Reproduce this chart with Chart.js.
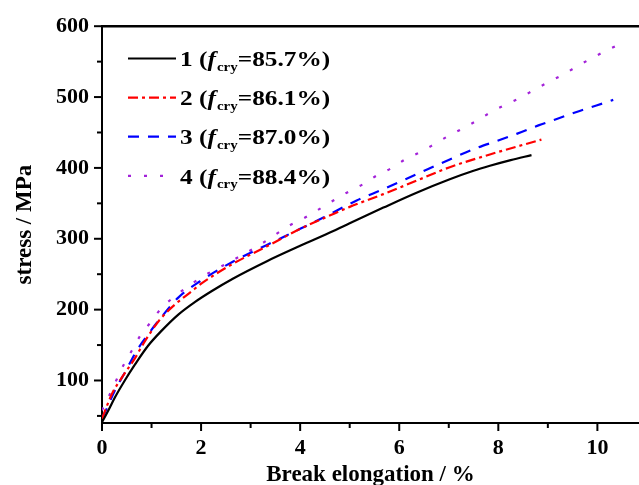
<!DOCTYPE html>
<html>
<head>
<meta charset="utf-8">
<script src="https://cdn.jsdelivr.net/npm/chart.js@4.4.1/dist/chart.umd.min.js"></script>
<style>
  html, body { margin: 0; padding: 0; background: #fff; }
  #wrap { width: 639px; height: 485px; position: relative; }
  .fontwarm { position: absolute; left: -9999px; top: 0; font-family: "Liberation Serif"; font-weight: bold; }
</style>
</head>
<body>
<div id="wrap"><canvas id="myChart" width="639" height="485"></canvas></div>
<span class="fontwarm">0123 stress</span><span class="fontwarm" style="font-style:italic">f</span>
<script>
// legend text
const sampleNums = ["1", "2", "3", "4"];
const fcryText = ["=85.7%)", "=86.1%)", "=87.0%)", "=88.4%)"];

// curve 1 (f_cry = 85.7%)
const elong1 = [0, 0.13, 0.26, 0.46, 0.67, 0.93, 1.2, 1.54, 1.88, 2.21, 2.65, 3.32, 4.0, 4.67, 5.0, 5.68, 6.35, 7.02, 7.5, 7.83, 8.25, 8.67];
const stress1 = [41, 58, 76, 100, 123, 149, 170, 193, 211, 226, 244, 268, 290, 311, 322, 344, 365, 384, 396, 403, 411, 418];

// curve 2 (f_cry = 86.1%)
const elong2 = [0, 0.2, 0.4, 0.67, 0.87, 1.17, 1.47, 1.81, 2.01, 2.65, 3.32, 4.0, 4.67, 5.0, 5.68, 6.35, 7.02, 7.83, 8.87];
const stress2 = [46, 81, 104, 132, 156, 186, 207, 226, 237, 265, 289, 314, 335, 345, 363, 382, 401, 419, 440];

// curve 3 (f_cry = 87.0%)
const elong3 = [0, 0.06, 0.26, 0.46, 0.7, 0.93, 1.24, 1.54, 1.98, 2.65, 3.32, 4.0, 4.47, 5.14, 5.68, 6.35, 7.02, 7.56, 7.97, 8.37, 8.81, 9.18, 9.58, 9.98, 10.32];
const stress3 = [47, 55, 86, 111, 142, 165, 193, 217, 240, 268, 291, 314, 330, 354, 370, 391, 412, 428, 438, 448, 460, 469, 479, 488, 496];

// curve 4 (f_cry = 88.4%)
const elong4 = [0, 0.16, 0.3, 0.43, 0.6, 0.77, 0.97, 1.2, 1.51, 1.78, 2.04, 2.65, 3.22, 3.79, 4.1, 4.67, 4.94, 5.27, 5.54, 5.85, 6.12, 6.42, 6.72, 6.99, 7.29, 7.6, 7.86, 8.17, 8.47, 8.74, 9.04, 9.34, 9.63, 9.92, 10.22, 10.55];
const stress4 = [58, 81, 102, 121, 142, 163, 181, 202, 221, 235, 247, 270, 293, 319, 330, 354, 365, 377, 389, 400, 412, 422, 434, 445, 456, 468, 479, 490, 500, 511, 522, 533, 545, 556, 567, 578];

// axis ticks
const xTicks = [0, 1, 2, 3, 4, 5, 6, 7, 8, 9, 10];
const yTicks = [50, 100, 150, 200, 250, 300, 350, 400, 450, 500, 550, 600];

const lineColors = ["#000000", "#ff0000", "#0000ff", "#a322d9"];
const lineDashes = [[], [10, 4, 3, 4], [11, 9], [3, 13]];

function toPoints(xs, ys) {
  return xs.map(function(x, i) { return { x: x, y: ys[i] }; });
}

const allX = [elong1, elong2, elong3, elong4];
const allY = [stress1, stress2, stress3, stress4];

const datasets = allX.map(function(xs, i) {
  return {
    label: sampleNums[i],
    data: toPoints(xs, allY[i]),
    borderColor: lineColors[i],
    borderWidth: 2.2,
    borderDash: lineDashes[i],
    pointRadius: 0,
    fill: false,
    cubicInterpolationMode: 'monotone'
  };
});

const serif = '"Liberation Serif"';

// top frame line, outward tick marks and the legend with subscripts
const framePlugin = {
  id: 'framePlugin',
  afterDraw(chart) {
    const ctx = chart.ctx;
    const area = chart.chartArea;
    const xs = chart.scales.x;
    const ys = chart.scales.y;
    ctx.save();
    ctx.strokeStyle = '#000';
    ctx.lineWidth = 2.4;
    ctx.beginPath();
    ctx.moveTo(area.left - 1, area.top);
    ctx.lineTo(area.right, area.top);
    ctx.stroke();

    ctx.lineWidth = 2;
    xs.ticks.forEach(function(t) {
      const px = xs.getPixelForValue(t.value);
      const len = t.value % 2 === 0 ? 8 : 5;
      ctx.beginPath();
      ctx.moveTo(px, area.bottom);
      ctx.lineTo(px, area.bottom + len);
      ctx.stroke();
    });
    ys.ticks.forEach(function(t) {
      const py = ys.getPixelForValue(t.value);
      const len = t.value % 100 === 0 ? 8 : 5;
      ctx.beginPath();
      ctx.moveTo(area.left, py);
      ctx.lineTo(area.left - len, py);
      ctx.stroke();
    });

    // legend
    for (let i = 0; i < sampleNums.length; i++) {
      const cy = 58.5 + i * 39.1;
      ctx.save();
      ctx.strokeStyle = lineColors[i];
      ctx.lineWidth = 2.2;
      ctx.setLineDash(lineDashes[i]);
      ctx.beginPath();
      ctx.moveTo(128, cy);
      ctx.lineTo(176, cy);
      ctx.stroke();
      ctx.restore();

      ctx.save();
      ctx.translate(180, cy + 7.7);
      ctx.scale(1.15, 1);
      ctx.fillStyle = '#000';
      ctx.textBaseline = 'alphabetic';
      let cx = 0;
      ctx.font = 'bold 22px ' + serif;
      const head = sampleNums[i] + ' (';
      ctx.fillText(head, cx, 0);
      cx += ctx.measureText(head).width;
      ctx.font = 'italic bold 22px ' + serif;
      ctx.fillText('f', cx, 0);
      cx += ctx.measureText('f').width + 1;
      ctx.font = 'bold 13px ' + serif;
      ctx.fillText('cry', cx, 4.5);
      cx += ctx.measureText('cry').width;
      ctx.font = 'bold 22px ' + serif;
      ctx.fillText(fcryText[i], cx, 0);
      ctx.restore();
    }
    ctx.restore();
  }
};

const config = {
  type: 'line',
  data: { datasets: datasets },
  options: {
    responsive: false,
    animation: false,
    devicePixelRatio: 1,
    layout: { padding: { top: 22, right: 0, left: 0, bottom: 0 } },
    plugins: {
      legend: { display: false },
      tooltip: { enabled: false }
    },
    scales: {
      x: {
        type: 'linear',
        min: 0,
        max: 10.84,
        afterBuildTicks: function(s) { s.ticks = xTicks.map(function(v) { return { value: v }; }); },
        afterFit: function(s) { s.height = 62; },
        grid: { display: false, drawTicks: false },
        border: { display: true, color: '#000', width: 2 },
        ticks: {
          autoSkip: false,
          maxRotation: 0,
          padding: 12,
          color: '#000',
          font: { family: serif, size: 22, weight: 'bold' },
          callback: function(v) { return v % 2 === 0 ? String(v) : ''; }
        },
        title: {
          display: true,
          text: 'Break elongation / %',
          color: '#000',
          font: { family: serif, size: 23, weight: 'bold', lineHeight: 1 },
          padding: { top: 0, bottom: -2 }
        }
      },
      y: {
        type: 'linear',
        min: 40,
        max: 600,
        afterBuildTicks: function(s) { s.ticks = yTicks.map(function(v) { return { value: v }; }); },
        afterFit: function(s) { s.width = 102; },
        grid: { display: false, drawTicks: false },
        border: { display: true, color: '#000', width: 2 },
        ticks: {
          autoSkip: false,
          padding: 13,
          color: '#000',
          font: { family: serif, size: 22, weight: 'bold' },
          callback: function(v) { return v % 100 === 0 ? String(v) : ''; }
        },
        title: {
          display: true,
          text: 'stress / MPa',
          color: '#000',
          font: { family: serif, size: 23, weight: 'bold', lineHeight: 1 },
          padding: { top: 14, bottom: 0 }
        }
      }
    }
  },
  plugins: [framePlugin]
};

// make sure the serif faces are ready before drawing
Promise.all([
  document.fonts.load('bold 22px "Liberation Serif"'),
  document.fonts.load('italic bold 22px "Liberation Serif"')
]).catch(function() {}).then(function() {
  var myChart = new Chart(document.getElementById('myChart'), config);
});
</script>
</body>
</html>
